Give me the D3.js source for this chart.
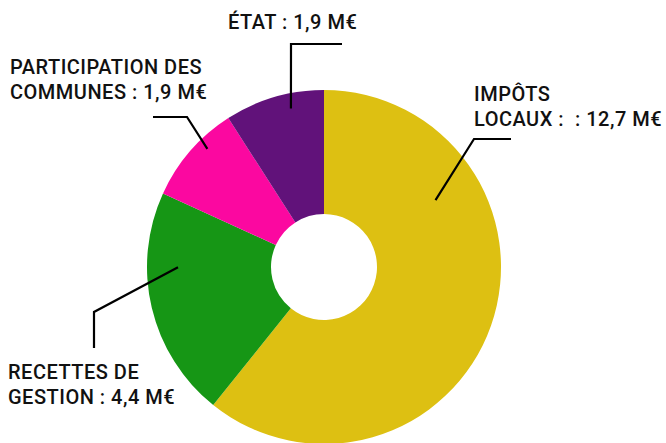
<!DOCTYPE html>
<html>
<head>
<meta charset="utf-8">
<script src="https://cdn.jsdelivr.net/npm/d3@7"></script>
<style>
  body { margin: 0; background: #fff; }
  text { font-family: "Roboto", sans-serif; font-size: 20px; font-weight: 500; fill: #111; white-space: pre; letter-spacing: 0.5px; }
</style>
</head>
<body>
<div id="vis"></div>
<script>
const FRAME_WIDTH = 666;
const FRAME_HEIGHT = 443;
const CENTER = {x: 324, y: 267};
const OUTER_R = 177;
const INNER_R = 53;

// data
const categories = ["IMPÔTS LOCAUX", "RECETTES DE GESTION", "PARTICIPATION DES COMMUNES", "ÉTAT"];
const values = [12.7, 4.4, 1.9, 1.9];
const colors = ["#DDC012", "#169615", "#FB08A0", "#61127A"];
const labelLines = [
  ["IMPÔTS", "LOCAUX :  : 12,7 M€"],
  ["RECETTES DE", "GESTION : 4,4 M€"],
  ["PARTICIPATION DES", "COMMUNES : 1,9 M€"],
  ["ÉTAT : 1,9 M€"]
];

// leader layout: anchor inside slice (fraction of slice span, radius), elbow, end, text pos
const leaders = [
  {frac: 0.27, r: 130, elbow: [474, 139], end: [511, 139], tx: 474, ty: 101},
  {frac: 0.675, r: 146, elbow: [94, 312], end: [94, 348], tx: 8, ty: 379},
  {frac: 0.636, r: 166, elbow: [187, 117], end: [153, 117], tx: 10, ty: 74},
  {frac: 0.64, r: 162, elbow: [291, 44], end: [342, 44], tx: 228, ty: 29}
];

const svg = d3.select("#vis")
  .append("svg")
    .attr("width", FRAME_WIDTH)
    .attr("height", FRAME_HEIGHT);

const pie = d3.pie().sort(null).value(d => d);
const arcs = pie(values);

const arc = d3.arc().innerRadius(INNER_R).outerRadius(OUTER_R);

const g = svg.append("g")
  .attr("transform", "translate(" + CENTER.x + "," + CENTER.y + ")");

g.selectAll("path")
  .data(arcs)
  .enter()
  .append("path")
    .attr("d", arc)
    .attr("fill", (d, i) => colors[i]);

// leader lines + labels
arcs.forEach((d, i) => {
  const L = leaders[i];
  const a = d.startAngle + L.frac * (d.endAngle - d.startAngle);
  const ax = CENTER.x + L.r * Math.sin(a);
  const ay = CENTER.y - L.r * Math.cos(a);
  svg.append("polyline")
    .attr("points", [[ax, ay], L.elbow, L.end].map(p => p.join(",")).join(" "))
    .attr("fill", "none")
    .attr("stroke", "#000")
    .attr("stroke-width", 2.2);

  const t = svg.append("text")
    .attr("x", L.tx)
    .attr("y", L.ty);
  labelLines[i].forEach((line, j) => {
    t.append("tspan")
      .attr("x", L.tx)
      .attr("dy", j === 0 ? 0 : 25)
      .text(line);
  });
});
</script>
</body>
</html>
